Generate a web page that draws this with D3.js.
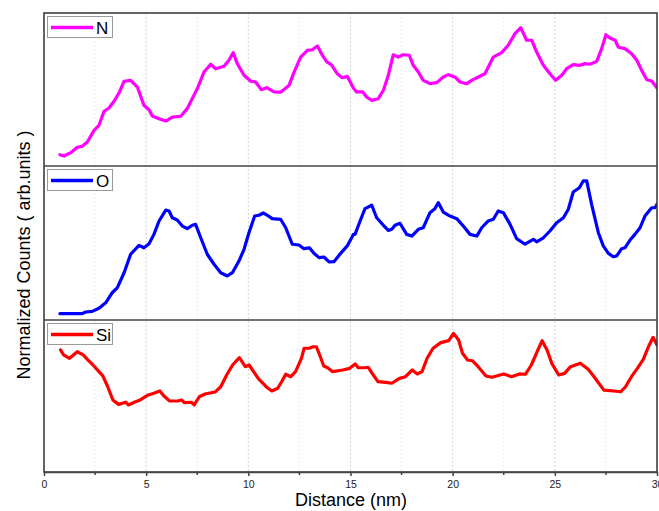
<!DOCTYPE html>
<html>
<head>
<meta charset="utf-8">
<script src="https://cdn.jsdelivr.net/npm/d3@7"></script>
<style>
  html, body { margin: 0; padding: 0; background: #fff; }
  svg { display: block; font-family: "Liberation Sans", Arial, sans-serif; }
</style>
</head>
<body>
<svg id="chart" width="659" height="511"></svg>
<script>
// ---- data (distance in nm, normalized counts) ----
const nX = [0.78,0.98,1.31,1.63,1.87,2.12,2.45,2.69,2.94,3.18,3.43,3.67,3.92,4.24,4.57,4.89,5.14,5.30,5.63,5.96,6.28,6.69,7.01,7.50,7.83,8.16,8.40,8.81,9.05,9.26,9.46,9.79,10.12,10.36,10.63,10.90,11.26,11.58,11.99,12.24,12.56,12.89,13.13,13.38,13.62,13.84,14.06,14.35,14.60,14.84,15.14,15.30,15.60,15.79,16.04,16.36,16.61,16.85,17.09,17.34,17.58,17.88,18.07,18.32,18.56,18.89,19.22,19.54,19.79,20.11,20.36,20.69,20.93,21.26,21.58,21.99,22.40,22.72,23.05,23.33,23.62,23.87,24.11,24.44,24.76,25.04,25.34,25.58,25.90,26.23,26.48,26.72,27.05,27.29,27.50,27.70,27.95,28.11,28.43,28.76,29.01,29.25,29.50,29.74,30.0];
const nY = [0.074,0.065,0.087,0.122,0.129,0.157,0.233,0.266,0.358,0.379,0.423,0.477,0.554,0.560,0.516,0.397,0.368,0.327,0.309,0.294,0.320,0.325,0.375,0.505,0.614,0.665,0.636,0.652,0.691,0.741,0.669,0.593,0.554,0.549,0.499,0.512,0.484,0.482,0.527,0.614,0.712,0.756,0.760,0.784,0.724,0.680,0.662,0.603,0.577,0.586,0.510,0.484,0.484,0.451,0.429,0.440,0.495,0.593,0.727,0.712,0.727,0.724,0.658,0.614,0.560,0.538,0.545,0.582,0.597,0.582,0.549,0.538,0.560,0.582,0.603,0.712,0.741,0.789,0.865,0.904,0.822,0.822,0.745,0.658,0.603,0.560,0.593,0.636,0.662,0.658,0.669,0.665,0.684,0.767,0.858,0.837,0.822,0.776,0.767,0.734,0.691,0.625,0.564,0.556,0.510];

const oX = [0.78,1.31,1.87,2.04,2.36,2.69,3.02,3.34,3.59,3.92,4.24,4.65,4.89,5.14,5.38,5.63,5.96,6.12,6.28,6.52,6.77,7.01,7.26,7.42,7.67,7.99,8.32,8.65,8.97,9.22,9.54,9.79,10.03,10.31,10.52,10.73,10.93,11.17,11.58,11.83,12.15,12.48,12.72,13.00,13.21,13.46,13.70,13.95,14.19,14.52,14.84,15.14,15.22,15.47,15.71,16.04,16.28,16.61,16.85,17.02,17.18,17.42,17.75,18.00,18.32,18.56,18.89,19.13,19.30,19.54,19.87,20.20,20.52,20.85,21.18,21.42,21.74,21.99,22.23,22.48,22.81,23.13,23.54,23.95,24.11,24.44,24.76,25.09,25.42,25.66,25.90,26.20,26.39,26.56,26.80,27.13,27.37,27.62,27.86,28.03,28.27,28.43,28.68,28.92,29.17,29.41,29.74,29.90,30.0];
const oY = [0.041,0.041,0.041,0.052,0.056,0.076,0.112,0.177,0.210,0.307,0.427,0.485,0.469,0.495,0.556,0.643,0.714,0.708,0.664,0.649,0.610,0.593,0.615,0.621,0.534,0.427,0.362,0.307,0.286,0.307,0.383,0.459,0.567,0.675,0.680,0.695,0.680,0.658,0.654,0.599,0.492,0.487,0.463,0.468,0.433,0.405,0.409,0.377,0.379,0.433,0.481,0.556,0.556,0.643,0.723,0.745,0.664,0.615,0.582,0.589,0.615,0.628,0.556,0.545,0.589,0.599,0.697,0.723,0.762,0.701,0.675,0.658,0.610,0.556,0.545,0.599,0.643,0.654,0.708,0.697,0.621,0.528,0.492,0.524,0.508,0.534,0.578,0.632,0.664,0.719,0.831,0.859,0.903,0.903,0.751,0.567,0.481,0.433,0.411,0.416,0.463,0.469,0.519,0.556,0.599,0.675,0.729,0.729,0.751];

const siX = [0.81,0.96,1.25,1.63,1.92,2.12,2.40,2.69,2.88,3.12,3.37,3.65,4.00,4.13,4.42,4.71,5.10,5.38,5.67,5.87,6.15,6.54,6.73,6.88,7.21,7.35,7.60,7.88,8.37,8.65,8.94,9.23,9.56,9.85,10.04,10.48,10.87,11.15,11.44,11.63,11.83,12.08,12.31,12.60,12.73,12.98,13.17,13.33,13.46,13.69,13.88,14.13,14.62,14.96,15.23,15.38,15.67,15.87,16.06,16.35,16.73,17.02,17.40,17.69,18.02,18.27,18.50,18.75,19.04,19.42,19.81,20.04,20.29,20.48,20.73,20.96,21.25,21.63,21.92,22.50,22.88,23.27,23.56,23.85,24.13,24.38,24.62,24.85,25.19,25.48,25.77,26.25,26.63,26.92,27.40,27.88,28.23,28.46,28.75,29.04,29.33,29.58,29.81,30.0];
const siY = [0.803,0.770,0.748,0.791,0.770,0.741,0.704,0.660,0.632,0.561,0.474,0.445,0.459,0.441,0.459,0.474,0.507,0.518,0.533,0.500,0.467,0.467,0.474,0.456,0.459,0.441,0.495,0.513,0.526,0.561,0.638,0.704,0.752,0.693,0.704,0.616,0.561,0.533,0.551,0.594,0.643,0.627,0.660,0.748,0.814,0.814,0.824,0.824,0.781,0.697,0.686,0.660,0.671,0.682,0.711,0.686,0.686,0.689,0.649,0.594,0.590,0.584,0.616,0.627,0.671,0.645,0.660,0.748,0.814,0.851,0.864,0.912,0.868,0.781,0.737,0.732,0.693,0.632,0.623,0.645,0.627,0.645,0.643,0.704,0.791,0.864,0.803,0.715,0.638,0.649,0.693,0.715,0.676,0.627,0.539,0.533,0.528,0.561,0.627,0.682,0.741,0.824,0.886,0.836];

const xTicks = [0, 5, 10, 15, 20, 25, 30];
const xMinor = [2.5, 7.5, 12.5, 17.5, 22.5, 27.5];

const panels = [
  { name: "N",  xs: nX,  ys: nY,  color: "#ff00ff", y0: 13,  y1: 166 },
  { name: "O",  xs: oX,  ys: oY,  color: "#0000ff", y0: 166, y1: 320 },
  { name: "Si", xs: siX, ys: siY, color: "#ff0000", y0: 320, y1: 472 }
];

const svg = d3.select("#chart");
const plotL = 44, plotR = 657, plotT = 13, plotB = 472;

const x = d3.scaleLinear().domain([0, 30]).range([plotL, plotR]);

svg.append("defs").append("clipPath").attr("id", "clip")
  .append("rect").attr("x", plotL).attr("y", plotT)
  .attr("width", plotR - plotL).attr("height", plotB - plotT);

// grid
const grid = svg.append("g");
grid.selectAll(".minor").data(xMinor).join("line")
  .attr("x1", d => x(d)).attr("x2", d => x(d))
  .attr("y1", plotT).attr("y2", plotB)
  .attr("stroke", "#eeeeee").attr("stroke-width", 1).attr("stroke-dasharray", "2,2");
grid.selectAll(".major").data(xTicks.slice(1, -1)).join("line")
  .attr("x1", d => x(d)).attr("x2", d => x(d))
  .attr("y1", plotT).attr("y2", plotB)
  .attr("stroke", "#d4d4d4").attr("stroke-width", 1).attr("stroke-dasharray", "2,2");

// curves
panels.forEach(p => {
  const y = d3.scaleLinear().domain([0, 1]).range([p.y1, p.y0]);
  const pts = p.xs.map((v, i) => [v, p.ys[i]]);
  svg.append("path")
    .datum(pts)
    .attr("clip-path", "url(#clip)")
    .attr("fill", "none").attr("stroke", p.color).attr("stroke-width", 3.2)
    .attr("stroke-linejoin", "round").attr("stroke-linecap", "round")
    .attr("d", d3.line().x(d => x(d[0])).y(d => y(d[1])));
});

// frame and panel dividers
svg.append("rect").attr("x", plotL).attr("y", plotT)
  .attr("width", plotR - plotL).attr("height", plotB - plotT)
  .attr("fill", "none").attr("stroke", "#333").attr("stroke-width", 1.5);
[166, 320].forEach(yy => {
  svg.append("line").attr("x1", plotL).attr("x2", plotR).attr("y1", yy).attr("y2", yy)
    .attr("stroke", "#444").attr("stroke-width", 1.5);
});

// legends
panels.forEach(p => {
  const g = svg.append("g").attr("transform", `translate(${plotL + 3},${p.y0 + 3})`);
  g.append("rect").attr("x", 0.5).attr("y", 0.5).attr("width", 65).attr("height", 21)
    .attr("fill", "#fff").attr("stroke", "#999").attr("stroke-width", 1);
  g.append("line").attr("x1", 4).attr("x2", 46).attr("y1", 11.5).attr("y2", 11.5)
    .attr("stroke", p.color).attr("stroke-width", 3.5);
  g.append("text").attr("x", 49).attr("y", 18).attr("font-size", 17).attr("fill", "#000")
    .text(p.name);
});

// x axis
const axis = svg.append("g").attr("transform", `translate(0,${plotB})`)
  .call(d3.axisBottom(x).tickValues(xTicks).tickSize(4).tickSizeOuter(0).tickFormat(d3.format("d")));
axis.select(".domain").attr("stroke", "#444").attr("stroke-width", 1.5);
axis.selectAll(".tick line").attr("stroke", "#444").attr("stroke-width", 1.5);
axis.selectAll(".tick text").attr("font-size", 10.5).attr("fill", "#222").attr("dy", "0.85em");
svg.append("g").selectAll("line").data(xMinor).join("line")
  .attr("x1", d => x(d)).attr("x2", d => x(d))
  .attr("y1", plotB).attr("y2", plotB + 3)
  .attr("stroke", "#444").attr("stroke-width", 1.5);

svg.append("text").attr("x", 351).attr("y", 506)
  .attr("text-anchor", "middle").attr("font-size", 18).attr("fill", "#000")
  .text("Distance (nm)");

svg.append("text").attr("transform", "translate(29.5,255) rotate(-90)")
  .attr("text-anchor", "middle").attr("font-size", 18).attr("fill", "#000")
  .text("Normalized Counts ( arb.units )");
</script>
</body>
</html>
